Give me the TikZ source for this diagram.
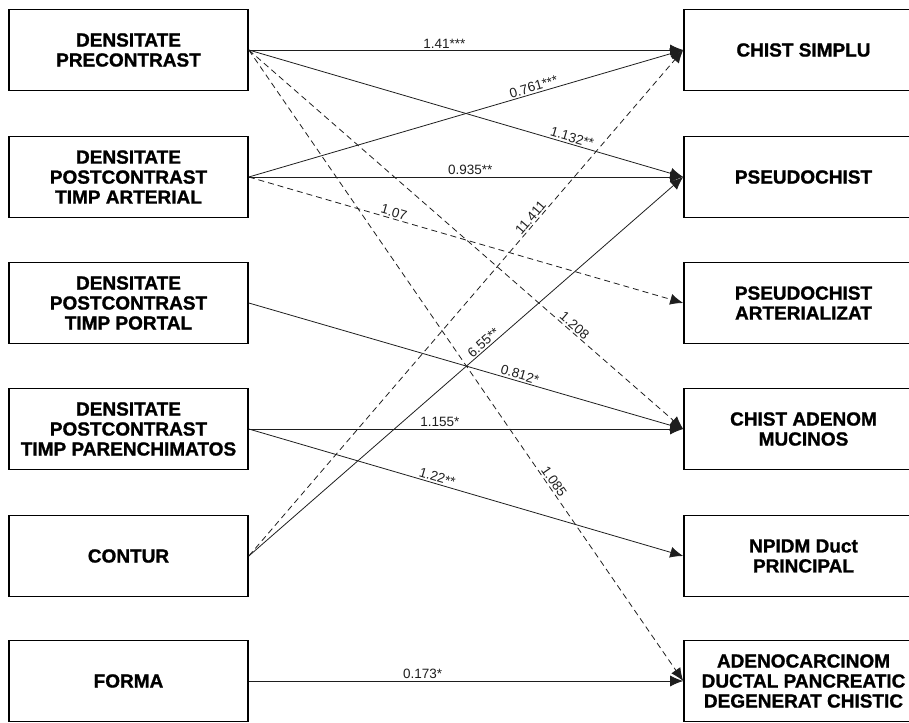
\documentclass[tikz,border=0pt]{standalone}
\usepackage{fontspec}
\setmainfont{Liberation Sans}
\newfontfamily\boxfont{Liberation Sans}[BoldFeatures={FakeBold=1.2}]
\usetikzlibrary{arrows.meta}
\definecolor{linkGray}{RGB}{30, 30, 30}

\begin{document}
\begin{tikzpicture}[x=1pt, y=-1pt,
    box/.style={draw, line width=1.6pt, minimum width=239pt, minimum height=81pt,
      inner sep=0pt, align=center, font=\boxfont\bfseries\fontsize{19}{20}\selectfont},
    link/.style={linkGray, line width=0.8pt, -{Latex[length=13pt, width=11pt]}},
    dashlink/.style={link, dash pattern=on 6pt off 4pt},
    lbl/.style={sloped, above, inner sep=1.5pt, font=\fontsize{13.5}{13.5}\selectfont}]
  \path[use as bounding box, clip] (0,0) rectangle (909,722);

  % Predictors on the left
  \node[box] (dpre) at (128.5,50) {DENSITATE\\PRECONTRAST};
  \node[box] (dart) at (128.5,177) {DENSITATE\\POSTCONTRAST\\TIMP ARTERIAL};
  \node[box] (dport) at (128.5,303) {DENSITATE\\POSTCONTRAST\\TIMP PORTAL};
  \node[box] (dparen) at (128.5,429) {DENSITATE\\POSTCONTRAST\\TIMP PARENCHIMATOS};
  \node[box] (contur) at (128.5,556) {CONTUR};
  \node[box] (forma) at (128.5,681) {FORMA};

  % Outcomes on the right
  \node[box] (chist) at (803.5,50) {CHIST SIMPLU};
  \node[box] (pseudo) at (803.5,177) {PSEUDOCHIST};
  \node[box] (pseudoart) at (803.5,303) {PSEUDOCHIST\\ARTERIALIZAT};
  \node[box] (adenom) at (803.5,429) {CHIST ADENOM\\MUCINOS};
  \node[box] (npidm) at (803.5,556) {NPIDM Duct\\PRINCIPAL};
  \node[box] (adeno) at (803.5,681) {ADENOCARCINOM\\DUCTAL PANCREATIC\\DEGENERAT CHISTIC};

  % Paths from densitate precontrast
  \draw[link] (dpre.east) -- node[lbl, pos=0.45] {1.41***} (chist.west);
  \draw[link] (dpre.east) -- node[lbl, pos=0.74] {1.132**} (pseudo.west);
  \draw[dashlink] (dpre.east) -- node[lbl, pos=0.74] {1.208} (adenom.west);
  \draw[dashlink] (dpre.east) -- node[lbl, pos=0.69] {1.085} (adeno.west);

  % Paths from timp arterial
  \draw[link] (dart.east) -- node[lbl, pos=0.66] {0.761***} (chist.west);
  \draw[link] (dart.east) -- node[lbl, pos=0.51] {0.935**} (pseudo.west);
  \draw[dashlink] (dart.east) -- node[lbl, pos=0.33] {1.07} (pseudoart.west);

  % Portal and parenchimatos
  \draw[link] (dport.east) -- node[lbl, pos=0.62] {0.812*} (adenom.west);
  \draw[link] (dparen.east) -- node[lbl, pos=0.44] {1.155*} (adenom.west);
  \draw[link] (dparen.east) -- node[lbl, pos=0.43] {1.22**} (npidm.west);

  % Contur and forma
  \draw[dashlink] (contur.east) -- node[lbl, pos=0.66] {11.411} (chist.west);
  \draw[link] (contur.east) -- node[lbl, pos=0.55] {6.55**} (pseudo.west);
  \draw[link] (forma.east) -- node[lbl, pos=0.40] {0.173*} (adeno.west);
\end{tikzpicture}
\end{document}
